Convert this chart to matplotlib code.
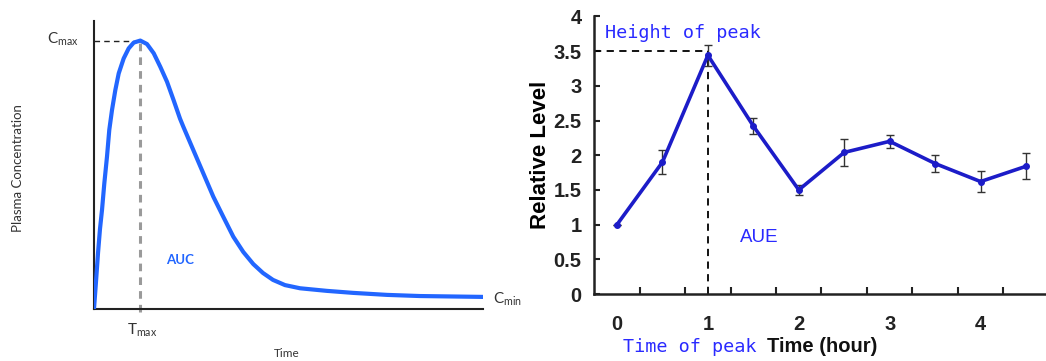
#!/usr/bin/env python
import matplotlib
matplotlib.use('Agg')
import matplotlib.pyplot as plt
import numpy as np

# left panel: generic plasma concentration curve
pk_time = [0.0, 0.051, 0.103, 0.154, 0.206, 0.265, 0.334, 0.393, 0.463, 0.548, 0.635, 0.763,
           0.892, 1.021, 1.190, 1.362, 1.535, 1.704, 1.877, 2.044, 2.211, 2.296, 2.553, 2.810,
           3.067, 3.324, 3.581, 3.838, 4.095, 4.344, 4.602, 4.910, 5.296, 5.982, 6.658, 7.532,
           8.380, 10.0]
pk_conc = [0.0, 0.094, 0.194, 0.278, 0.344, 0.436, 0.529, 0.622, 0.691, 0.760, 0.818, 0.870,
           0.905, 0.925, 0.932, 0.920, 0.888, 0.841, 0.789, 0.726, 0.661, 0.633, 0.552, 0.471,
           0.390, 0.320, 0.251, 0.198, 0.156, 0.125, 0.101, 0.083, 0.072, 0.063, 0.056, 0.049,
           0.045, 0.042]
t_max = 1.19
c_max = 0.932

# right panel: measured relative level
hours = [0, 0.5, 1, 1.5, 2, 2.5, 3, 3.5, 4, 4.5]
level = [1.0, 1.9, 3.44, 2.42, 1.5, 2.04, 2.2, 1.88, 1.62, 1.84]
level_err = [0.0, 0.17, 0.15, 0.12, 0.07, 0.19, 0.09, 0.12, 0.15, 0.19]
peak_time = 1
peak_height = 3.5
y_ticks = [0, 0.5, 1, 1.5, 2, 2.5, 3, 3.5, 4]
y_labels = ['0', '0.5', '1', '1.5', '2', '2.5', '3', '3.5', '4']
x_ticks = [0, 1, 2, 3, 4]

fig = plt.figure(figsize=(10.46, 3.61), dpi=100)

# ---- left panel
ax1 = fig.add_axes([94/1046, 52/361, 389/1046, 288/361])
ax1.set_xlim(0, 10)
ax1.set_ylim(0, 1)
ax1.plot(pk_time, pk_conc, color='#2266ff', linewidth=3, solid_capstyle='round',
         solid_joinstyle='round', zorder=3)
ax1.plot([0, t_max], [c_max, c_max], color='#222222', linewidth=1, dashes=(4, 3), zorder=2)
ax1.plot([t_max, t_max], [-0.01, c_max], color='#9a9a9a', linewidth=2.2, dashes=(2.5, 2), zorder=2,
         clip_on=False)
for s in ['top', 'right']:
    ax1.spines[s].set_visible(False)
for s in ['left', 'bottom']:
    ax1.spines[s].set_linewidth(1.5)
    ax1.spines[s].set_color('#222222')
ax1.set_xticks([])
ax1.set_yticks([])

lf = ['Lato', 'DejaVu Sans']
tc = '#333333'
ax1.text(-0.4, c_max + 0.005, r'$\mathregular{C_{max}}$', ha='right', va='center', fontsize=11,
         color=tc, family=lf)
ax1.text(10.25, 0.035, r'$\mathregular{C_{min}}$', ha='left', va='center', fontsize=11,
         color=tc, family=lf)
ax1.text(t_max + 0.05, -0.075, r'$\mathregular{T_{max}}$', ha='center', va='center', fontsize=11,
         color=tc, family=lf)
ax1.text(4.96, -0.153, 'Time', ha='center', va='center', fontsize=8.5, color=tc, family=lf)
ax1.text(-1.95, 0.49, 'Plasma Concentration', ha='center', va='center', rotation=90,
         fontsize=9.5, color=tc, family=lf)
ax1.text(2.2, 0.17, 'AUC', ha='center', va='center', fontsize=9.5, color='#2266ff',
         fontweight='bold', family=lf)

# ---- right panel
ax2 = fig.add_axes([594/1046, 67/361, 452/1046, 277.6/361])
ax2.set_xlim(-0.253, 4.72)
ax2.set_ylim(0, 4)
ax2.errorbar(hours, level, yerr=level_err, color='#1c1cc8', ecolor='#333333', elinewidth=1,
             capsize=3, capthick=1, linewidth=2.6, marker='o', markersize=4, zorder=3)
ax2.plot([-0.253, peak_time], [peak_height, peak_height], color='black', linewidth=1.3,
         dashes=(4, 3), zorder=2)
ax2.plot([peak_time, peak_time], [0, peak_height], color='black', linewidth=1.3,
         dashes=(4, 3), zorder=2)
for s in ['top', 'right']:
    ax2.spines[s].set_visible(False)
for s in ['left', 'bottom']:
    ax2.spines[s].set_linewidth(1.8)
    ax2.spines[s].set_color('#222222')

bf = ['Liberation Sans', 'DejaVu Sans']
ax2.set_yticks(y_ticks)
ax2.set_yticklabels(y_labels, fontsize=14.5, fontweight='bold', family=bf)
ax2.set_xticks(x_ticks)
ax2.set_xticklabels([str(x) for x in x_ticks], fontsize=14.5, fontweight='bold', family=bf)
ax2.set_xticks(np.arange(0.25, 4.5, 0.5), minor=True)
ax2.tick_params(axis='y', direction='in', length=4, width=1.5, pad=9, colors='#222222')
ax2.tick_params(axis='x', which='major', length=0, pad=15, colors='#222222')
ax2.tick_params(axis='x', which='minor', direction='in', length=5, width=1.5, color='#222222')
ax2.set_ylabel('Relative Level', fontsize=16, fontweight='bold', family=bf, labelpad=2)

blue = '#2a2aff'
mono = ['DejaVu Sans Mono']
ax2.text(-0.13, 3.76, 'Height of peak', ha='left', va='center', fontsize=13.3, color=blue,
         family=mono)
ax2.text(1.57, 0.81, 'AUE', ha='center', va='center', fontsize=13.5, color=blue, family=bf)
fig.text(690/1046, 1 - 347/361, 'Time of peak', ha='center', va='center', fontsize=13.3,
         color=blue, family=mono)
fig.text(822/1046, 1 - 347/361, 'Time (hour)', ha='center', va='center', fontsize=14.5,
         fontweight='bold', color='#111111', family=bf)

plt.savefig('out.png', dpi=100)
